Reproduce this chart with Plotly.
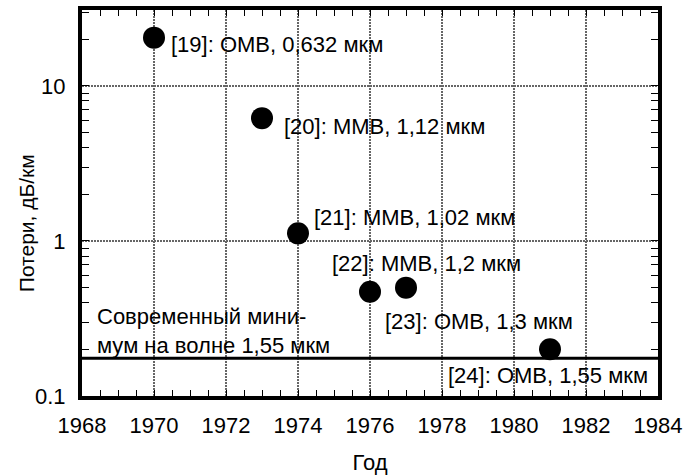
import math
import plotly.graph_objects as go

# Data
years = [1970, 1973, 1974, 1976, 1977, 1981]
losses = [20.5, 6.2, 1.12, 0.47, 0.50, 0.20]
labels = [
    "[19]: ОМВ, 0,632 мкм",
    "[20]: ММВ, 1,12 мкм",
    "[21]: ММВ, 1,02 мкм",
    "[22]: ММВ, 1,2 мкм",
    "[23]: ОМВ, 1,3 мкм",
    "[24]: ОМВ, 1,55 мкм",
]
modern_min = 0.175
modern_min_text = "Современный мини-<br>мум на волне 1,55 мкм"
x_ticks = [1968, 1970, 1972, 1974, 1976, 1978, 1980, 1982, 1984]
y_ticks = [0.1, 1, 10]
y_ticktext = ["0.1", "1", "10"]
y_minor = [0.2, 0.3, 0.4, 0.5, 0.6, 0.7, 0.8, 0.9,
           2, 3, 4, 5, 6, 7, 8, 9, 20, 30]
x_title = "Год"
y_title = "Потери, дБ/км"

# label placement (pixel offsets from each point)
label_style = [
    dict(xanchor="left", xshift=15, yshift=-7),
    dict(xanchor="left", xshift=20, yshift=-8),
    dict(xanchor="left", xshift=14, yshift=16),
    dict(xanchor="left", xshift=-40, yshift=28),
    dict(xanchor="left", xshift=-23, yshift=-34),
    dict(xanchor="right", xshift=100, yshift=-26),
]

FONT = "Liberation Sans, Arial, Helvetica, sans-serif"
FS = 22

fig = go.Figure()
fig.add_trace(go.Scatter(
    x=years, y=losses, mode="markers",
    marker=dict(size=22, color="black", line=dict(width=0)),
    showlegend=False, hoverinfo="x+y",
))

for x, y, t, st in zip(years, losses, labels, label_style):
    fig.add_annotation(x=x, y=math.log10(y), xref="x", yref="y", text=t,
                       showarrow=False, yanchor="middle",
                       font=dict(size=FS, color="black", family=FONT), **st)

fig.add_shape(type="line", xref="paper", yref="y", x0=0, x1=1,
              y0=modern_min, y1=modern_min, line=dict(color="black", width=3))

fig.add_annotation(xref="paper", yref="paper", x=0.022, y=0.1675,
                   text=modern_min_text, showarrow=False, align="left",
                   xanchor="left", yanchor="middle",
                   font=dict(size=FS, color="black", family=FONT))

# y-axis title (placed as rotated text to match the reference position)
fig.add_annotation(xref="paper", yref="paper", x=-0.097, y=0.448,
                   text=y_title, textangle=-90, showarrow=False,
                   xanchor="center", yanchor="middle",
                   font=dict(size=21, color="black", family=FONT))

fig.update_layout(
    width=683, height=475,
    margin=dict(l=82, r=25, t=10, b=79),
    paper_bgcolor="white", plot_bgcolor="white",
    font=dict(family=FONT, size=FS, color="black"),
    xaxis=dict(
        range=[1968, 1984], tickvals=x_ticks, automargin=False,
        showline=True, linewidth=4, linecolor="black", mirror="allticks",
        ticks="inside", ticklen=6, tickwidth=1, tickcolor="black",
        showgrid=True, gridcolor="#666", gridwidth=2, griddash="2px,1px",
        minor=dict(dtick=0.5, tick0=1968, ticks="inside", ticklen=6,
                   tickwidth=1, tickcolor="black", showgrid=False),
        zeroline=False, ticklabelstandoff=7,
        title=dict(text=x_title, standoff=24, font=dict(size=FS)),
    ),
    yaxis=dict(
        type="log", range=[-1, 1.49], tickvals=y_ticks, ticktext=y_ticktext,
        automargin=False,
        showline=True, linewidth=4, linecolor="black", mirror="allticks",
        ticks="inside", ticklen=7, tickwidth=1, tickcolor="black",
        showgrid=True, gridcolor="#666", gridwidth=2, griddash="2px,1px",
        minor=dict(tickvals=y_minor, ticks="inside", ticklen=7,
                   tickwidth=1, tickcolor="black", showgrid=False),
        zeroline=False, ticklabelstandoff=8,
    ),
)

fig.write_html("out.html", config={"displayModeBar": False},
               post_script="document.body.style.margin='0';document.body.style.overflow='hidden';")
